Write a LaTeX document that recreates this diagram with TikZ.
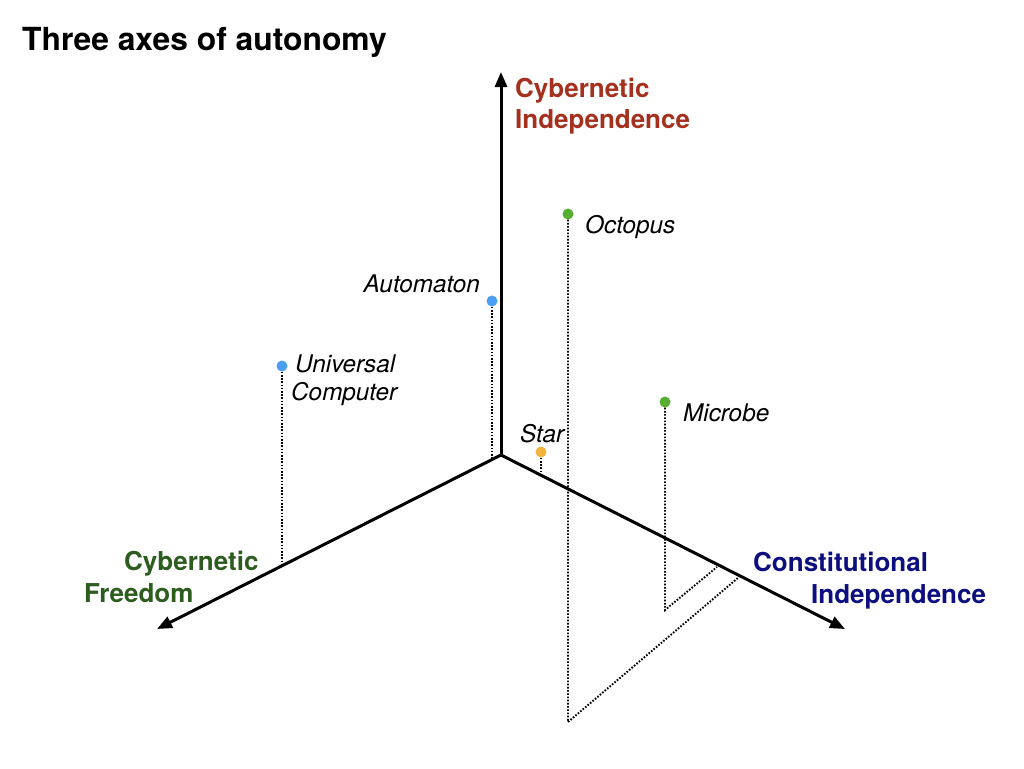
\documentclass[tikz,border=0pt]{standalone}
\usepackage{fontspec}
\setsansfont{TeX Gyre Heros}
\usetikzlibrary{positioning,arrows.meta,shapes}
\definecolor{indepred}{HTML}{A5301E}
\definecolor{constblue}{HTML}{0D0F7E}
\definecolor{freegreen}{HTML}{2C5C1E}
\definecolor{dotblue}{HTML}{4B9EF3}
\definecolor{dotgreen}{HTML}{58AD33}
\definecolor{dotyellow}{HTML}{F1B43C}
\tikzset{
	every picture/.style={/utils/exec={\sffamily}},
	axis/.style={line width=3pt, -{Triangle[length=15pt,width=12pt]}},
	drop/.style={line width=1.9pt, dash pattern=on 1.6pt off 1.6pt},
	dot/.style={circle, fill=#1, inner sep=0, minimum size=11pt},
	axislabel/.style={font=\bfseries\fontsize{26}{30}\selectfont, inner sep=0},
	thing/.style={font=\itshape\fontsize{24.3}{28}\selectfont, inner sep=0},
}

\begin{document}
\begin{tikzpicture}[x=1pt, y=-1pt]
	\useasboundingbox (0,0) rectangle (1024,768);
	\node[anchor=base west, inner sep=0, font=\bfseries\fontsize{31.8}{36}\selectfont] (title) at (22,50) {Three axes of autonomy};

	\coordinate (origin) at (501,455);
	\coordinate (upend) at (501,72);
	\coordinate (leftend) at (157,629);
	\coordinate (rightend) at (845,629);

	\coordinate (unifoot) at (282,566);
	\coordinate (autofoot) at (492,460);
	\coordinate (starfoot) at (541,475);
	\coordinate (octbase) at (568,722);
	\coordinate (octfoot) at (739,577);
	\coordinate (micbase) at (665,610);
	\coordinate (micfoot) at (717,567);

	\node[dot=dotblue] (unicomp) at (282,366) {};
	\node[dot=dotblue] (automaton) at (492,301) {};
	\node[dot=dotgreen] (octopus) at (568,214) {};
	\node[dot=dotgreen] (microbe) at (665,402) {};
	\node[dot=dotyellow] (star) at (541,452) {};

	\path[draw, drop] (unicomp) -- (unifoot);
	\path[draw, drop] (automaton) -- (autofoot);
	\path[draw, drop] (star) -- (starfoot);
	\path[draw, drop] (octopus) -- (octbase) -- (octfoot);
	\path[draw, drop] (microbe) -- (micbase) -- (micfoot);

	\path[draw, axis] (origin) -- (upend);
	\path[draw, axis] (origin) -- (leftend);
	\path[draw, axis] (origin) -- (rightend);

	\node[axislabel, text=indepred, anchor=base west] (cyberind) at (515,97) {Cybernetic};
	\node[axislabel, text=indepred, anchor=base west] (cyberind2) at (515,128) {Independence};
	\node[axislabel, text=constblue, anchor=base west] (constind) at (753,571) {Constitutional};
	\node[axislabel, text=constblue, anchor=base west] (constind2) at (811,603) {Independence};
	\node[axislabel, text=freegreen, anchor=base west] (cyberfree) at (124,570) {Cybernetic};
	\node[axislabel, text=freegreen, anchor=base west] (cyberfree2) at (84,602) {Freedom};

	\node[thing, anchor=base west] (octlabel) at (585,233) {Octopus};
	\node[thing, anchor=base east] (autolabel) at (480,292) {Automaton};
	\node[thing, anchor=base west] (unilabel) at (295,372) {Universal};
	\node[thing, anchor=base west] (unilabel2) at (291,400) {Computer};
	\node[thing, anchor=base west] (miclabel) at (683,421) {Microbe};
	\node[thing, anchor=base west] (starlabel) at (520,442) {Star};
\end{tikzpicture}
\end{document}
